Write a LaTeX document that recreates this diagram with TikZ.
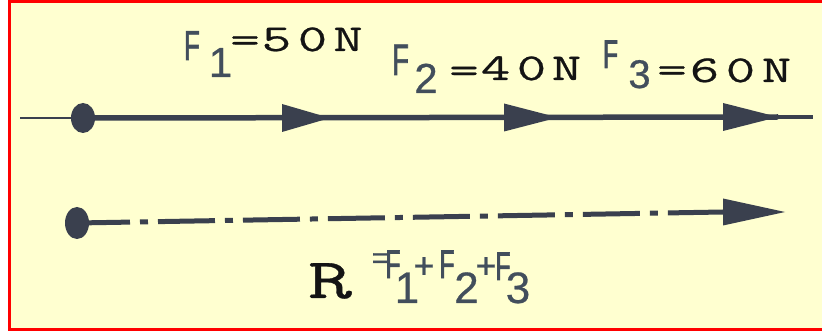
\documentclass[tikz,border=0pt]{standalone}
\usepackage{fontspec}
\usetikzlibrary{shapes.geometric}
\newfontfamily\twfont{Latin Modern Mono}[FakeStretch=1.5,FakeBold=0.6]
\newfontfamily\handfont{Liberation Sans}[FakeBold=0.6]
\newfontfamily\handFfont{Liberation Sans}[FakeStretch=0.62,FakeBold=1.5]
\definecolor{bgyellow}{RGB}{255,255,208}
\definecolor{frame}{RGB}{255,0,0}
\definecolor{ink}{RGB}{58,64,78}
\definecolor{handink}{RGB}{66,78,92}
\definecolor{typeink}{RGB}{20,20,20}
% place glyph centred at x offset #1, raised by #2
\newcommand\pc[3]{\rlap{\kern#1pt\makebox[0pt]{\raisebox{#2pt}{#3}}}}
\newcommand\hF[1]{{\handFfont\fontsize{#1}{#1}\selectfont\color{handink}F}}
\newcommand\hd[2]{{\handfont\fontsize{#1}{#1}\selectfont\color{handink}#2}}
\newcommand\tc[2]{{\twfont\fontsize{#1}{#1}\selectfont\color{typeink}#2}}
\begin{document}
\begin{tikzpicture}[x=1pt,y=-1pt,
  lbl/.style={anchor=base west,inner sep=0pt,outer sep=0pt},
  dotsty/.style={ellipse,fill=ink,inner sep=0pt,minimum width=24pt,minimum height=30pt},
  head/.style={fill=ink},
  thinline/.style={draw=ink,line width=2pt},
  thickline/.style={draw=ink,line width=5.5pt},
  endline/.style={draw=ink,line width=3.5pt},
  resline/.style={draw=ink,line width=5pt,dash pattern=on 57pt off 10pt on 8pt off 10pt,dash phase=4pt}]
\useasboundingbox (0,0) rectangle (822,331);
% background and frame
\fill[white] (0,0) rectangle (822,331);
\fill[bgyellow] (11,3) rectangle (822,328);
\fill[frame] (8,0) rectangle (822,3);
\fill[frame] (8,0) rectangle (11,331);
\fill[frame] (8,328) rectangle (822,331);
% top line of forces
\coordinate (t0) at (20,118);
\coordinate (tEnd) at (813,117);
\coordinate (a1b) at (282,118); \coordinate (a1t) at (330,118);
\coordinate (a2b) at (504,117.5); \coordinate (a2t) at (558,117.5);
\coordinate (a3b) at (723,117); \coordinate (a3t) at (778,117);
\draw[thinline] (t0) -- (83,118);
\draw[thickline] (83,118) -- (a3t);
\draw[endline] (a3t) -- (tEnd);
\node[dotsty] (dA) at (83,118) {};
\fill[head] ([yshift=-14pt]a1b) -- (a1t) -- ([yshift=14pt]a1b) -- cycle;
\fill[head] ([yshift=-14pt]a2b) -- (a2t) -- ([yshift=14pt]a2b) -- cycle;
\fill[head] ([yshift=-14pt]a3b) -- (a3t) -- ([yshift=14pt]a3b) -- cycle;
% resultant
\coordinate (rb) at (723,212);
\coordinate (rt) at (785,212);
\draw[resline] (77,223) -- (rb);
\node[dotsty,minimum height=32pt] (dB) at (77,223) {};
\fill[head] ([yshift=-13.5pt]rb) -- (rt) -- ([yshift=13.5pt]rb) -- cycle;
% labels
\node[lbl] (f1) at (180,51) {\pc{11.5}{-9}{\hF{42}}\pc{40}{-26}{\hd{42}{1}}\pc{64.5}{-1}{\tc{38}{=}}\pc{96}{0}{\tc{38}{5}}\pc{132}{0}{\tc{38}{0}}\pc{167.5}{0}{\tc{38}{N}}};
\node[lbl] (f2) at (380,80) {\pc{20}{5}{\hF{44}}\pc{45.5}{-13}{\hd{42}{2}}\pc{83.5}{-2.5}{\tc{38}{=}}\pc{115}{0}{\tc{38}{4}}\pc{151}{0}{\tc{38}{0}}\pc{186}{0}{\tc{38}{N}}};
\node[lbl] (f3) at (590,82) {\pc{20}{14}{\hF{40}}\pc{49}{-6}{\hd{40}{3}}\pc{81.5}{0}{\tc{38}{=}}\pc{114}{0}{\tc{38}{6}}\pc{150}{0}{\tc{38}{0}}\pc{186}{0}{\tc{38}{N}}};
\node[lbl] (res) at (300,298) {\pc{29.5}{0}{\tc{57}{R}}\pc{80}{30}{\hd{30}{=}}\pc{92.5}{20}{\hF{40}}\pc{106.5}{-5}{\hd{44}{1}}\pc{123.5}{20}{\hd{36}{+}}\pc{146.5}{20}{\hF{40}}\pc{166}{-5}{\hd{44}{2}}\pc{185.5}{20}{\hd{36}{+}}\pc{202.5}{18}{\hF{40}}\pc{217.5}{-5}{\hd{44}{3}}};
\end{tikzpicture}
\end{document}
